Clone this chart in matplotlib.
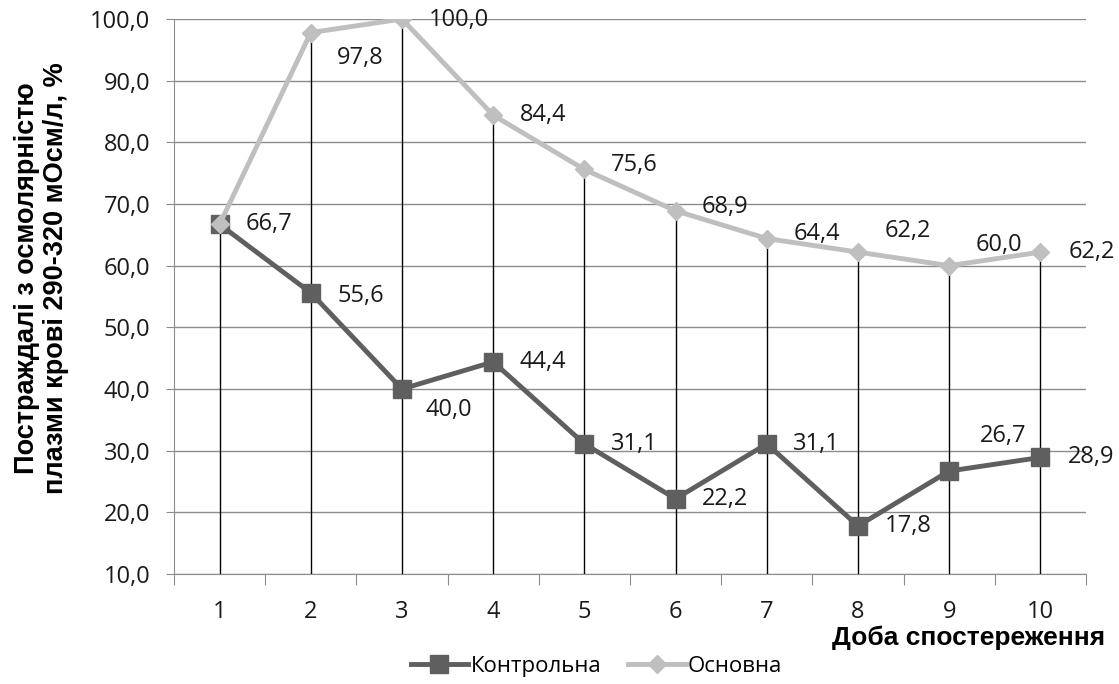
import matplotlib
matplotlib.use("Agg")
import matplotlib.pyplot as plt
from matplotlib.ticker import FixedLocator, FuncFormatter, NullFormatter

days = [1, 2, 3, 4, 5, 6, 7, 8, 9, 10]
day_labels = ["1", "2", "3", "4", "5", "6", "7", "8", "9", "10"]
control = [66.7, 55.6, 40.0, 44.4, 31.1, 22.2, 31.1, 17.8, 26.7, 28.9]
main = [66.7, 97.8, 100.0, 84.4, 75.6, 68.9, 64.4, 62.2, 60.0, 62.2]
series_names = ["Контрольна", "Основна"]
y_ticks = [10, 20, 30, 40, 50, 60, 70, 80, 90, 100]

c_ctrl = "#5f5f5f"
c_main = "#bfbfbf"
grid_c = "#8c8c8c"

fig = plt.figure(figsize=(11.19, 6.84), dpi=100)
ax = fig.add_axes([0.1555, 0.1608, 0.815, 0.8114])

ax.set_xlim(0.5, 10.5)
ax.set_ylim(10, 100)

# horizontal gridlines
for v in y_ticks:
    ax.axhline(v, color=grid_c, lw=1.0, zorder=0)

# drop lines
tops = [max(a, b) for a, b in zip(control, main)]
ax.vlines(days, 10, tops, color="black", lw=1.0, zorder=1)

h_main, = ax.plot(days, main, color=c_main, lw=3.5, marker="D", ms=9,
                  mfc=c_main, mec=c_main, zorder=3)
h_ctrl, = ax.plot(days, control, color=c_ctrl, lw=3.5, marker="s", ms=13,
                  mfc=c_ctrl, mec=c_ctrl, zorder=2)

def fmt(v):
    return f"{v:.1f}".replace(".", ",")

lab_font = dict(family="Open Sans", fontsize=17, color="#1a1a1a")
# offsets in points (dx, dy)
ctrl_off = [(19, 0), (19, -2), (17, -15), (19, 0), (19, 0), (19, 0), (19, 0), (19, 0), (22, 25), (20, 0)]
main_off = [None, (19, -18), (19, -1), (19, 0), (19, 3), (19, 3), (19, 3), (19, 15), (19, 15), (20, 0)]

for x, v, o in zip(days, control, ctrl_off):
    ax.annotate(fmt(v), (x, v), xytext=o, textcoords="offset points",
                ha="left", va="center", zorder=5, **lab_font)
for x, v, o in zip(days, main, main_off):
    if o is None:
        continue
    ax.annotate(fmt(v), (x, v), xytext=o, textcoords="offset points",
                ha="left", va="center", zorder=5, **lab_font)

# axes styling
for s in ["top", "right"]:
    ax.spines[s].set_visible(False)
ax.spines["left"].set_color(grid_c)
ax.spines["bottom"].set_color(grid_c)

ax.yaxis.set_major_locator(FixedLocator(y_ticks))
ax.yaxis.set_major_formatter(FuncFormatter(lambda v, p: fmt(v)))
ax.tick_params(axis="y", length=6, color=grid_c, labelsize=17, pad=11,
               labelcolor="#1a1a1a")

ax.xaxis.set_major_locator(FixedLocator([i + 0.5 for i in range(0, 11)]))
ax.xaxis.set_major_formatter(NullFormatter())
ax.xaxis.set_minor_locator(FixedLocator(days))
ax.set_xticklabels(day_labels, minor=True)
ax.tick_params(axis="x", which="major", length=8, color=grid_c)
ax.tick_params(axis="x", which="minor", length=0, labelsize=17, pad=19,
               labelcolor="#1a1a1a")

for t in ax.get_yticklabels() + ax.get_xticklabels(minor=True):
    t.set_fontfamily("Open Sans")

fig.text(0.037, 0.594, "Постраждалі з осмолярністю\nплазми крові 290-320 мОсм/л, %",
         rotation=90, ha="center", va="center", fontsize=19.5, fontweight="bold",
         family="Liberation Sans", linespacing=1.15)
fig.text(0.988, 0.067, "Доба спостереження", ha="right", va="center",
         fontsize=19, fontweight="bold", family="Liberation Sans")

leg = fig.legend(handles=[h_ctrl, h_main], labels=series_names,
                 loc="center", bbox_to_anchor=(0.533, 0.026), ncol=2,
                 frameon=False, prop=dict(family="Open Sans", size=16),
                 handlelength=2.6, columnspacing=1.2, handletextpad=0.1)

fig.savefig("out.png", dpi=100)
